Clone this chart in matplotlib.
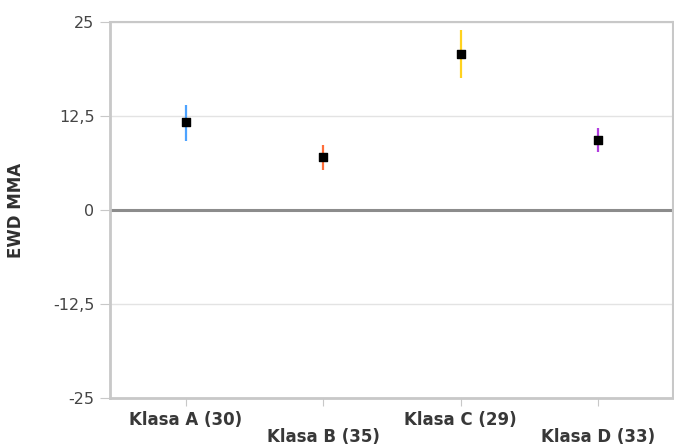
import matplotlib.pyplot as plt
from matplotlib.ticker import FuncFormatter

categories = ["Klasa A (30)", "Klasa B (35)", "Klasa C (29)", "Klasa D (33)"]
means = [11.7, 7.05, 20.7, 9.3]
upper = [14.0, 8.6, 23.9, 10.9]
lower = [9.2, 5.3, 17.6, 7.7]
colors = ["#4da3ff", "#ff6e3a", "#ffd21f", "#b23de0"]
yticks = [-25, -12.5, 0, 12.5, 25]

plt.rcParams["font.family"] = ["Verdana", "DejaVu Sans"]

fig = plt.figure(figsize=(6.74, 4.45), dpi=100)
ax = fig.add_axes([0.163, 0.105, 0.835, 0.846])

x = list(range(len(categories)))
for i in x:
    ax.vlines(i, lower[i], upper[i], color=colors[i], linewidth=1.6, zorder=3)
ax.scatter(x, means, marker="s", s=30, color="black", zorder=4)

ax.axhline(0, color="#8c8c8c", linewidth=2.2, zorder=2)
ax.set_ylim(-25, 25)
ax.set_xlim(-0.55, 3.54)
ax.set_yticks(yticks)
ax.yaxis.set_major_formatter(FuncFormatter(lambda v, p: f"{v:g}".replace(".", ",")))
ax.grid(axis="y", color="#e3e3e3", linewidth=1, zorder=0)
ax.set_axisbelow(True)

ax.set_xticks(x)
ax.set_xticklabels([])
for i, lab in enumerate(categories):
    yoff = -0.057 if i % 2 == 0 else -0.102
    ax.text(i, yoff, lab, transform=ax.get_xaxis_transform(), ha="center", va="center",
            fontsize=12, fontweight="bold", color="#383838")

for side in ["left", "top", "right", "bottom"]:
    ax.spines[side].set_color("#c8c8c8")
ax.spines["left"].set_linewidth(2)
ax.spines["bottom"].set_linewidth(2)
ax.spines["top"].set_linewidth(1.5)
ax.spines["right"].set_linewidth(1.5)

ax.tick_params(axis="y", length=7, color="#c8c8c8", labelsize=11.5, labelcolor="#454545", pad=4)
ax.tick_params(axis="x", length=6, color="#c8c8c8")

ax.set_ylabel("EWD MMA", fontsize=12, fontweight="bold", color="#303030", labelpad=20)

fig.savefig("out.png", dpi=100)
